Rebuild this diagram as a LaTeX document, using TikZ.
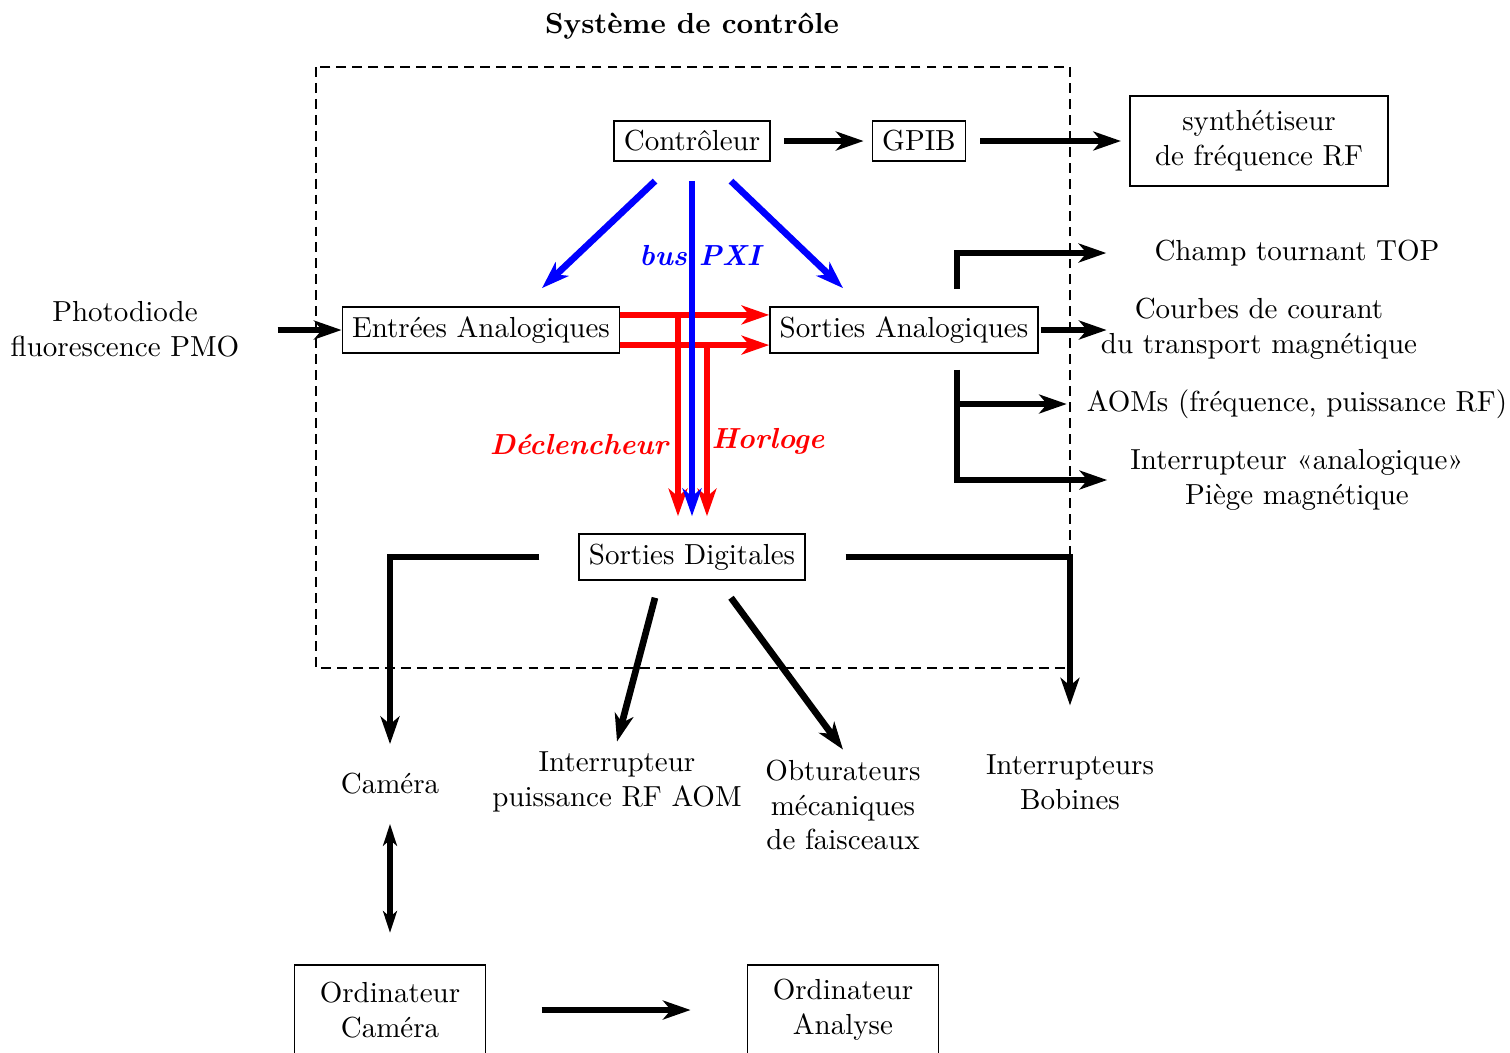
\documentclass[tikz,border=0pt]{standalone}
\usepackage{fontspec}
\usetikzlibrary{arrows.meta,calc}

\begin{document}
\begin{tikzpicture}[x=0.3448pt,y=-0.3448pt,
  boite/.style={draw,line width=0.6pt},
  fleche/.style={line width=2.3pt,-{Stealth[length=9.5pt,width=6.5pt,inset=2.7pt]}},
  bleu/.style={fleche,blue},
  rouge/.style={fleche,red},
  etiq/.style={font=\bfseries\itshape}]
  \useasboundingbox (0,0) rectangle (1510,1052);
  % systeme de controle
  \node[font=\bfseries] (titre) at (692,26) {Système de contrôle};
  \draw[dash pattern=on 3.4pt off 2.1pt,line width=0.7pt] (316,67) rectangle (1070,668);
  \node[boite] (ctrl) at (692,141) {Contrôleur};
  \node[boite] (gpib) at (919,141) {GPIB};
  \node[boite,align=center,minimum width=89pt,minimum height=31pt] (synth) at (1259,141) {synthétiseur\\de fréquence RF};
  \node[boite] (entrees) at (481,330) {Entrées Analogiques};
  \node[boite] (sortiesA) at (904,330) {Sorties Analogiques};
  \node[boite] (sortiesD) at (692,557) {Sorties Digitales};
  \node[align=center] (photo) at (125,329) {Photodiode\\fluorescence PMO};
  % sorties analogiques
  \node (champ) at (1297,253) {Champ tournant TOP};
  \node[align=center] (courbes) at (1259,329) {Courbes de courant\\du transport magnétique};
  \node (aoms) at (1297,404) {AOMs (fréquence, puissance RF)};
  \node[align=center] (interA) at (1297,480) {Interrupteur «analogique»\\Piège magnétique};
  % sorties digitales
  \node (camera) at (390,784) {Caméra};
  \node[align=center] (interRF) at (617,782) {Interrupteur\\puissance RF AOM};
  \node[align=center] (obtu) at (843,805) {Obturateurs\\mécaniques\\de faisceaux};
  \node[align=center] (interB) at (1070,782) {Interrupteurs\\Bobines};
  \node[boite,align=center,minimum width=65.9pt,minimum height=31.2pt] (ordiCam) at (390,1010) {Ordinateur\\Caméra};
  \node[boite,align=center,minimum width=65.9pt,minimum height=31.2pt] (ordiAna) at (843,1010) {Ordinateur\\Analyse};

  \draw[fleche,shorten <=4.5pt,shorten >=2.8pt] (ctrl) -- (gpib);
  \draw[fleche,shorten <=4.8pt,shorten >=2.8pt] (gpib) -- (synth);
  \draw[fleche,shorten <=9.7pt] (photo.east |- entrees) -- (entrees.west);

  % declencheur et horloge
  \draw[rouge] ([yshift=5.2pt]entrees.east) -- ([yshift=5.2pt]sortiesA.west);
  \draw[rouge] ([yshift=-5.2pt]entrees.east) -- ([yshift=-5.2pt]sortiesA.west);
  \draw[rouge] ($(sortiesD.north)+(-14,-220)$) -- ($(sortiesD.north)+(-14,-17)$);
  \draw[rouge] ($(sortiesD.north)+(15,-190)$) -- ($(sortiesD.north)+(15,-17)$);
  \node[etiq,red] (decl) at (579,444) {Déclencheur};
  \node[etiq,red] (horl) at (768,441) {Horloge};

  % bus PXI
  \draw[bleu] ($(ctrl.south)+(-37,19)$) -- ($(entrees.north)+(61,-18)$);
  \draw[bleu] ($(ctrl.south)+(39,19)$) -- ($(sortiesA.north)+(-61,-18)$);
  \draw[bleu,shorten <=6.5pt,shorten >=5.9pt] (ctrl.south) -- (sortiesD.north);
  \node[etiq,blue] (bus) at (700,256) {bus PXI};

  \coordinate (hautA) at ($(sortiesA.north)+(53,-17)$);
  \coordinate (basA) at ($(sortiesA.south)+(53,16)$);
  \draw[fleche] (hautA) |- ([xshift=-13.1pt]champ.west);
  \draw[fleche,shorten <=0.7pt] (sortiesA.east) -- ([xshift=5.5pt]courbes.west |- sortiesA.east);
  \draw[fleche] (basA) |- ([xshift=-4.5pt]interA.west);
  \draw[fleche] (basA |- aoms) -- ([xshift=-3.4pt]aoms.west);

  \draw[fleche] ([xshift=-13.4pt]sortiesD.west) -| ([yshift=6.6pt]camera.north);
  \draw[fleche] ($(sortiesD.south)+(-37,17)$) -- (interRF.north);
  \draw[fleche] ($(sortiesD.south)+(39,17)$) -- (obtu.north);
  \draw[fleche] ([xshift=13.8pt]sortiesD.east) -| ([yshift=13.4pt]interB.north);

  \draw[line width=2pt,{Stealth[length=7.5pt,width=4.8pt,inset=2pt]}-{Stealth[length=7.5pt,width=4.8pt,inset=2pt]},
    shorten <=6.6pt,shorten >=10.7pt] (camera.south) -- (ordiCam.north);
  \draw[fleche,shorten <=19pt,shorten >=19.3pt] (ordiCam) -- (ordiAna);
\end{tikzpicture}
\end{document}
